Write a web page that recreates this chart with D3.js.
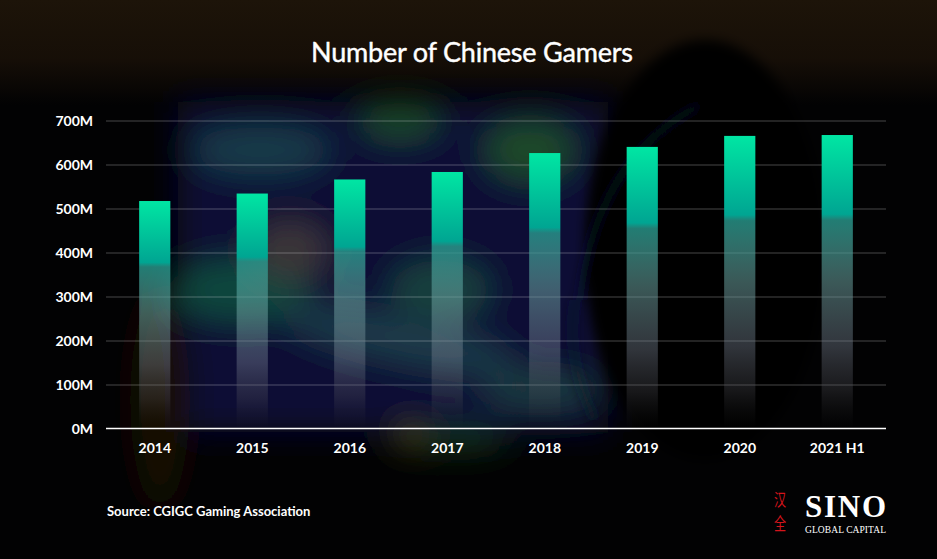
<!DOCTYPE html>
<html>
<head>
<meta charset="utf-8">
<script src="https://cdn.jsdelivr.net/npm/d3@7"></script>
<style>
  html, body { margin: 0; padding: 0; background: #000; }
  svg { display: block; }
</style>
</head>
<body>
<svg id="chart" width="937" height="559"></svg>
<script>
// data
const years = ['2014', '2015', '2016', '2017', '2018', '2019', '2020', '2021 H1'];
const gamers = [517, 534, 566, 583, 626, 640, 665, 667]; // millions
const yTicks = [0, 100, 200, 300, 400, 500, 600, 700];

const width = 937;
const height = 559;

let svg = d3.select('#chart');
let defs = svg.append('defs');

// blur for the fake photo behind the chart, region covers the whole page
function addBlur(id, sd) {
	defs.append('filter').attr('id', id)
		.attr('filterUnits', 'userSpaceOnUse')
		.attr('x', -200).attr('y', -200).attr('width', width + 400).attr('height', height + 400)
		.append('feGaussianBlur').attr('stdDeviation', sd);
}
addBlur('blur', 16);
addBlur('blurSoft', 6);

// brown haze at the top
let topGrad = defs.append('linearGradient').attr('id', 'topHaze').attr('x1', 0).attr('y1', 0).attr('x2', 0).attr('y2', 1);
topGrad.append('stop').attr('offset', 0).attr('stop-color', '#1d1409').attr('stop-opacity', 1);
topGrad.append('stop').attr('offset', 0.55).attr('stop-color', '#1a1108').attr('stop-opacity', 0.85);
topGrad.append('stop').attr('offset', 1).attr('stop-color', '#1a1108').attr('stop-opacity', 0);

// bar fill: bright green on top, teal, then a see-through grey that fades out
let grad = defs.append('linearGradient').attr('id', 'barFill').attr('x1', 0).attr('y1', 0).attr('x2', 0).attr('y2', 1);
[
	[0, '#00e6a3', 1],
	[0.27, '#00a592', 1],
	[0.29, '#2a9c90', 0.8],
	[0.5, '#6aa09e', 0.55],
	[0.72, '#7a8494', 0.4],
	[0.87, '#55555c', 0.28],
	[1, '#303030', 0]
].forEach(function(s) {
	grad.append('stop').attr('offset', s[0]).attr('stop-color', s[1]).attr('stop-opacity', s[2]);
});

// background
svg.append('rect').attr('width', width).attr('height', height).attr('fill', '#020203');
svg.append('rect').attr('width', width).attr('height', 105).attr('fill', 'url(#topHaze)');
let bg = svg.append('g').attr('filter', 'url(#blur)');
bg.append('rect').attr('x', 178).attr('y', 102).attr('width', 430).attr('height', 330).attr('fill', '#0d0c36');
bg.append('ellipse').attr('cx', 260).attr('cy', 150).attr('rx', 70).attr('ry', 25).attr('fill', '#163a4a');
bg.append('ellipse').attr('cx', 400).attr('cy', 120).attr('rx', 40).attr('ry', 18).attr('fill', '#1b4a2a');
bg.append('ellipse').attr('cx', 530).attr('cy', 150).attr('rx', 45).attr('ry', 30).attr('fill', '#1f4a2a');
bg.append('ellipse').attr('cx', 240).attr('cy', 290).attr('rx', 70).attr('ry', 30).attr('fill', '#10463e');
bg.append('ellipse').attr('cx', 290).attr('cy', 250).attr('rx', 40).attr('ry', 30).attr('fill', '#3a3438');
bg.append('ellipse').attr('cx', 400).attr('cy', 340).attr('rx', 120).attr('ry', 22).attr('fill', '#1e3a48')
	.attr('transform', 'rotate(12 400 340)');
bg.append('ellipse').attr('cx', 440).attr('cy', 290).attr('rx', 50).attr('ry', 30).attr('fill', '#12403c');
bg.append('ellipse').attr('cx', 540).attr('cy', 390).attr('rx', 60).attr('ry', 18).attr('fill', '#1c3a40');
bg.append('ellipse').attr('cx', 450).attr('cy', 440).attr('rx', 60).attr('ry', 10).attr('fill', '#153a18');
bg.append('ellipse').attr('cx', 410).attr('cy', 436).attr('rx', 14).attr('ry', 12).attr('fill', '#4a4410');
bg.append('ellipse').attr('cx', 160).attr('cy', 400).attr('rx', 30).attr('ry', 110).attr('fill', '#140803');
// dark head with headset on the right
let head = svg.append('g').attr('filter', 'url(#blurSoft)');
head.append('ellipse').attr('cx', 705).attr('cy', 250).attr('rx', 120).attr('ry', 210).attr('fill', '#010101');
head.append('path').attr('d', 'M580,300 Q595,160 700,105').attr('fill', 'none').attr('stroke', '#101820').attr('stroke-width', 4);
head.append('path').attr('d', 'M575,300 Q565,360 595,420').attr('fill', 'none').attr('stroke', '#121a20').attr('stroke-width', 4);

// scales
let x = d3.scaleBand().domain(years).range([106, 886]).paddingInner(0.68).paddingOuter(0.34);
let y = d3.scaleLinear().domain([0, 700]).range([428.5, 120.5]);

// grid lines
svg.append('g')
	.attr('transform', 'translate(106,0)')
	.call(d3.axisLeft(y).tickValues(yTicks.slice(1)).tickSize(-780).tickFormat(''))
	.call(function(g) { g.select('.domain').remove(); })
	.call(function(g) {
		g.selectAll('.tick line').attr('stroke', '#ffffff').attr('stroke-opacity', 0.28).attr('stroke-width', 1);
	});

// y labels
svg.append('g')
	.attr('transform', 'translate(93,0)')
	.call(d3.axisLeft(y).tickValues(yTicks).tickSize(0).tickPadding(0).tickFormat(function(d) { return d + 'M'; }))
	.call(function(g) { g.select('.domain').remove(); })
	.call(function(g) {
		g.selectAll('text').attr('fill', '#fff').attr('font-family', 'Lato, sans-serif')
			.attr('font-weight', 'bold').attr('font-size', 14).attr('dy', '0.36em');
	});

// bars
svg.append('g')
	.selectAll('rect')
	.data(gamers)
	.join('rect')
	.attr('x', function(d, i) { return x(years[i]); })
	.attr('y', function(d) { return y(d); })
	.attr('width', x.bandwidth())
	.attr('height', function(d) { return y(0) - y(d); })
	.attr('fill', 'url(#barFill)');

// x axis
svg.append('g')
	.attr('transform', 'translate(0,' + y(0) + ')')
	.call(d3.axisBottom(x).tickSize(0).tickPadding(15))
	.call(function(g) {
		g.select('.domain').attr('stroke', '#fff').attr('stroke-width', 1.5).attr('d', 'M106,0H886');
		g.selectAll('text').attr('fill', '#fff').attr('font-family', 'Lato, sans-serif')
			.attr('font-weight', 'bold').attr('font-size', 14);
	});

// title
svg.append('text')
	.attr('x', 472)
	.attr('y', 62)
	.attr('text-anchor', 'middle')
	.attr('fill', '#fff')
	.attr('stroke', '#fff')
	.attr('stroke-width', 0.4)
	.attr('font-family', 'Lato, sans-serif')
	.attr('font-size', 27)
	.attr('textLength', 322)
	.text('Number of Chinese Gamers');

// source
svg.append('text')
	.attr('x', 107)
	.attr('y', 516)
	.attr('fill', '#fff')
	.attr('font-family', 'Lato, sans-serif')
	.attr('font-weight', 'bold')
	.attr('font-size', 13)
	.text('Source: CGIGC Gaming Association');

// logo: red seal, stretched tall, one text with two lines
let seal = svg.append('text')
	.attr('transform', 'translate(780,489) scale(1.1,1.5)')
	.attr('text-anchor', 'middle')
	.attr('fill', '#d4141b')
	.attr('font-family', '"Noto Sans CJK SC"')
	.attr('font-size', 11);
seal.append('tspan').attr('x', 0).attr('y', 11).text('汉');
seal.append('tspan').attr('x', 0).attr('y', 27.5).text('全');
svg.append('text')
	.attr('x', 805).attr('y', 517)
	.attr('fill', '#fff')
	.attr('font-family', '"Liberation Serif", serif')
	.attr('font-weight', 'bold')
	.attr('font-size', 31)
	.attr('textLength', 81)
	.text('SINO');
svg.append('text')
	.attr('x', 805).attr('y', 533)
	.attr('fill', '#fff')
	.attr('font-family', '"Liberation Serif", serif')
	.attr('font-size', 9.5)
	.attr('textLength', 81)
	.text('GLOBAL CAPITAL');
</script>
</body>
</html>
